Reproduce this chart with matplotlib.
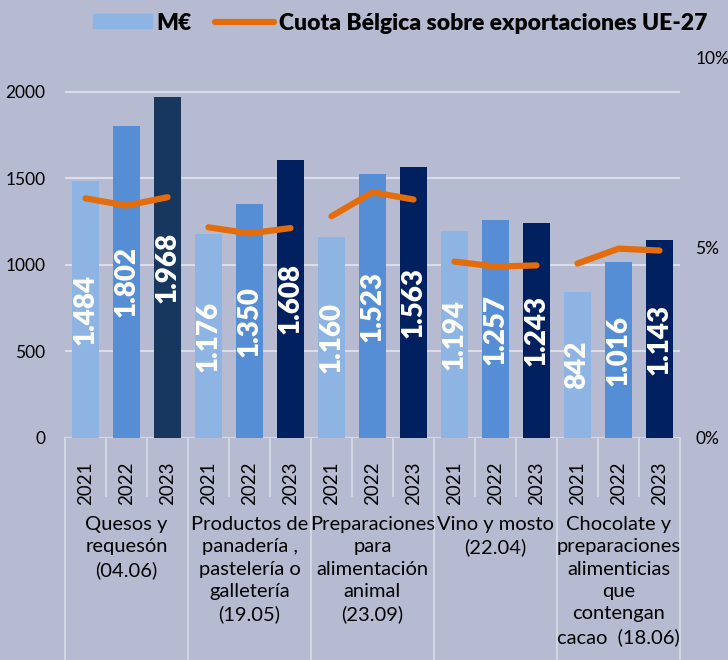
import numpy as np
import matplotlib.pyplot as plt
from matplotlib.patches import Patch
from matplotlib.lines import Line2D
from matplotlib.ticker import FuncFormatter

plt.rcParams['font.family'] = ['Lato', 'DejaVu Sans']

# Data
groups = ["Quesos y\nrequesón\n(04.06)",
          "Productos de\npanadería ,\npastelería o\ngalletería\n(19.05)",
          "Preparaciones\npara\nalimentación\nanimal\n(23.09)",
          "Vino y mosto\n(22.04)",
          "Chocolate y\npreparaciones\nalimenticias\nque\ncontengan\ncacao  (18.06)"]
years = ["2021", "2022", "2023"]
meur = [[1484, 1802, 1968],
        [1176, 1350, 1608],
        [1160, 1523, 1563],
        [1194, 1257, 1243],
        [842, 1016, 1143]]
cuota = [[0.0629, 0.0610, 0.0632],
         [0.0553, 0.0537, 0.0551],
         [0.0582, 0.0645, 0.0626],
         [0.0463, 0.0450, 0.0453],
         [0.0458, 0.0497, 0.0492]]

bg = '#B7BBD2'
grid_c = '#DCDDE8'
sep_c = '#D6D8E4'
bar_cols = ['#8DB4E2', '#558ED5', '#002060']
orange = '#E46C0A'

W, H = 728, 660
fig = plt.figure(figsize=(W / 100, H / 100), dpi=100)
fig.patch.set_facecolor(bg)
ax = fig.add_axes([65 / W, (H - 438) / H, 615 / W, (438 - 57) / H])
ax.set_facecolor(bg)

for g, vals in enumerate(meur):
    for k, v in enumerate(vals):
        x = 3 * g + k
        col = bar_cols[k]
        if g == 0 and k == 2:
            col = '#17375E'
        ax.bar(x, v, width=0.68, color=col, zorder=2)
        ax.text(x, v / 2, f"{v:,}".replace(",", "."), rotation=90,
                ha='center', va='center', color='white', fontsize=20,
                fontweight='heavy', zorder=3)

ax.set_xlim(-0.5, 14.5)
ax.set_ylim(0, 2200)
ax.set_yticks([0, 500, 1000, 1500, 2000])
ax.yaxis.grid(True, color=grid_c, lw=1.5, zorder=0)
ax.set_axisbelow(True)
ax.tick_params(axis='y', length=0, pad=14, labelsize=12.5)
for s in ax.spines.values():
    s.set_visible(False)
ax.axhline(0, color=sep_c, lw=1.5, zorder=1)

ax.set_xticks(range(15))
ax.set_xticklabels(years * 5, rotation=90, fontsize=13.5)
ax.tick_params(axis='x', length=0, pad=17)

# separators under the axis
trans = ax.get_xaxis_transform()
axh = 438 - 57
for b in range(16):
    x = b - 0.5
    y_end = -(H - 438) / axh if b % 3 == 0 else -58 / axh
    ax.plot([x, x], [0, y_end], color=sep_c, lw=1.3, transform=trans,
            clip_on=False, zorder=1)

for g, name in enumerate(groups):
    ax.text(3 * g + 1, -78 / axh, name, transform=trans, ha='center',
            va='top', fontsize=14.5, linespacing=1.38)

ax2 = ax.twinx()
for g, vals in enumerate(cuota):
    xs = [3 * g + k for k in range(3)]
    ax2.plot(xs, vals, color=orange, lw=4.5, solid_capstyle='round',
             solid_joinstyle='round', zorder=4)
ax2.set_ylim(0, 0.10)
ax2.set_yticks([0, 0.05, 0.10])
ax2.yaxis.set_major_formatter(FuncFormatter(lambda v, p: f"{v * 100:.0f}%"))
ax2.tick_params(axis='y', length=0, pad=11, labelsize=12.5)
for s in ax2.spines.values():
    s.set_visible(False)

handles = [Patch(color=bar_cols[0]),
           Line2D([0], [0], color=orange, lw=4.5, solid_capstyle='round')]
fig.legend(handles, ["M€", "Cuota Bélgica sobre exportaciones UE-27"],
           loc='center', bbox_to_anchor=(400 / W, 1 - 23 / H), ncol=2,
           frameon=False, prop={'weight': 'heavy', 'size': 16.5},
           handlelength=2.6, handleheight=0.55, handletextpad=0.2,
           columnspacing=1.0)

fig.savefig("out.png", dpi=100, facecolor=bg)
